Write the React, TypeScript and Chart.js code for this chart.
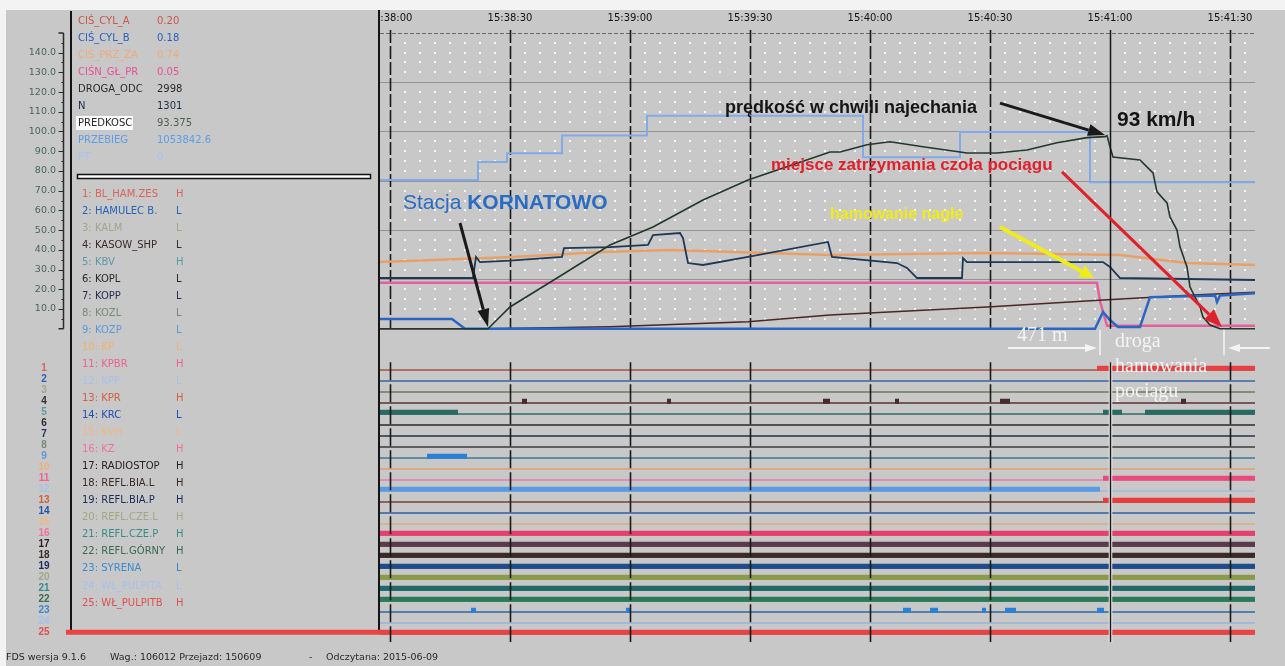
import React, { useEffect, useRef } from "react";
import { Chart, registerables } from "chart.js";

Chart.register(...registerables);

const CANVAS_W = 1285;
const CANVAS_H = 666;
const BG = "#c8c8c8";

// ---------- time axis (seconds after 15:38:00) ----------
const timeTickLabels = ["15:38:00", "15:38:30", "15:39:00", "15:39:30", "15:40:00", "15:40:30", "15:41:00", "15:41:30"];
const TIME_MIN = -2.5;
const TIME_MAX = 216.25;
const TIME_STEP = 30;
const CURSOR_T = 180;

// ---------- analog axis ----------
const analogTickValues = [10, 20, 30, 40, 50, 60, 70, 80, 90, 100, 110, 120, 130, 140];
const ANALOG_TOP = 150;

// ---------- analog series: [seconds, value] ----------
const predkosc: [number, number][] = [
  [-2.5, 0], [24.5, 0], [30, 11], [41.75, 25.7], [55, 42.4], [65.75, 51.6], [78.25, 65.3], [89.5, 75.4],
  [110, 89.6], [112.5, 89.6], [119.25, 93.3], [125, 94.8], [133.25, 92.3], [144.25, 89.1], [151.75, 89.1],
  [159.25, 90.6], [166.75, 94.3], [174.25, 96.9], [178.75, 97.4], [179.25, 97.9], [180, 92.2], [180.75, 87.1],
  [187.5, 85.6], [190.75, 79.0], [191.75, 69.4], [194.25, 63.8], [195, 56.7], [196.75, 50.0], [197.5, 41.5],
  [199.25, 31.3], [200, 21.2], [200.75, 18.1], [202.5, 11.0], [203.25, 5.9], [205, 1.9], [207.5, 0], [216.25, 0],
];
const przebieg: [number, number][] = [
  [-2.5, 75.4], [22, 84.5], [29.25, 89], [43, 98], [64.25, 108], [118.25, 87], [142.5, 99.7], [175, 74.3], [216.25, 74.3],
];
const obroty: [number, number][] = [
  [-2.5, 25.7], [20.75, 25.7], [21.5, 36.4], [22.5, 33.8], [30, 34.5], [43, 36.4], [43.5, 40.9], [55, 41.4],
  [64.5, 42.5], [65.75, 47.5], [72.5, 48.5], [73.25, 46], [74.5, 33.3], [78.25, 32.3], [89.5, 36.4], [109.5, 44],
  [110.5, 36.4], [126.75, 33.3], [129.25, 30.8], [131.75, 25.7], [143, 25.7], [143.25, 35.8], [144.25, 33.8],
  [178.25, 33.8], [180, 31.3], [182.5, 25.7], [216.25, 24.7],
];
const cisPrzZa: [number, number][] = [
  [-2.5, 33.8], [30.75, 36.4], [53.25, 38.9], [70, 39.9], [110, 37.4], [149.25, 38.4], [182.5, 37.4], [199.25, 33.3], [216.25, 32.3],
];
const cisnGlPr: [number, number][] = [
  [-2.5, 23.3], [176.75, 23.3], [177.5, 14], [179.25, 1.5], [216.25, 1.5],
];
const drogaOdc: [number, number][] = [
  [-2.5, 0], [24.5, 0], [55, 1], [89.5, 3.5], [110, 7], [149.25, 11], [178.25, 14.6], [200.75, 17.1], [216.25, 18.5],
];
const cisCylB: [number, number][] = [
  [-2.5, 4.9], [15.5, 4.9], [18.75, 0], [176.25, 0], [178.25, 8.5], [180, 4.4], [182, 0.9], [187.5, 0.9],
  [190, 16], [206.25, 16.8], [206.75, 13.5], [207.5, 16.8], [216.25, 18],
];

// ---------- analog legend ----------
const analogNames = ["CIŚ_CYL_A", "CIŚ_CYL_B", "CIŚ_PRZ_ZA", "CIŚN_GŁ_PR", "DROGA_ODC", "N", "PREDKOSC", "PRZEBIEG", "PT"];
const analogValues = ["0.20", "0.18", "0.74", "0.05", "2998", "1301", "93.375", "1053842.6", "0"];
const analogNameColors = ["#c8584a", "#2a5fc0", "#eeaa7c", "#e8509a", "#2a2a2a", "#1c2c4c", "#2a2a2a", "#5a9ee6", "#a8c2f0"];
const analogValueColors = ["#c8584a", "#2a5fc0", "#eeaa7c", "#e8509a", "#2a2a2a", "#1c2c4c", "#4e5e50", "#5a9ee6", "#a8c2f0"];

// ---------- digital lanes ----------
const laneNames = [
  "BL_HAM.ZES", "HAMULEC B.", "KALM", "KASOW_SHP", "KBV", "KOPL", "KOPP", "KOZL", "KOZP", "KP", "KPBR", "KPP", "KPR",
  "KRC", "KVH", "KZ", "RADIOSTOP", "REFL.BIA.L", "REFL.BIA.P", "REFL.CZE.L", "REFL.CZE.P", "REFL.GÓRNY", "SYRENA",
  "WŁ_PULPITA", "WŁ_PULPITB",
];
const laneActiveLevel = ["H", "L", "L", "L", "H", "L", "L", "L", "L", "L", "H", "L", "H", "L", "L", "H", "H", "H", "H", "H", "H", "H", "L", "L", "H"];
const laneTextColors = [
  "#d8645a", "#2a62b8", "#a4a48c", "#3a2a2a", "#5a9aa8", "#2a2a2a", "#2a3050", "#7a8a7a", "#5a9ad8", "#f0b070",
  "#f06090", "#a8c0e8", "#d06040", "#2050b0", "#f0b880", "#f070a0", "#2a2020", "#3a2a2a", "#1a2a5a", "#a0a880",
  "#3a8a8a", "#3a6a50", "#3a8ad0", "#a6c0ee", "#e05050",
];
const laneLowColors = [
  "#a05545", "#3a64a0", "#6e7a5a", "#5a3434", "#2e6a6a", "#2a2a2a", "#26304a", "#3c3c3c", "#3a7898", "#e0a070",
  "#e080a8", "#a8bad8", "#7a4038", "#3060a0", "#e0aa80", "#e8407a", "#5a3a48", "#3a2a2a", "#1a4a88", "#8a9a48",
  "#1e6a6a", "#2a7a58", "#2a6aa8", "#98b4e0", "#e84444",
];
const laneHighColors = [
  "#e84040", "#3a64a0", "#6e7a5a", "#4a2a2a", "#2a6a62", "#2a2a2a", "#26304a", "#3c3c3c", "#2a80d8", "#e0a070",
  "#ea4a7e", "#5a9ae2", "#ea3c3c", "#3060a0", "#e0aa80", "#e8406e", "#5c3a4a", "#3a2a2a", "#1c4c8c", "#8a9a4a",
  "#1e6a6a", "#2a7a5a", "#2a80d8", "#98b4e0", "#e84444",
];
const laneHigh: [number, number][][] = [
  [[176.75, 216.25]],
  [],
  [],
  [[33, 34.25], [69.25, 70.25], [108.25, 110], [126.25, 127.25], [152.5, 155], [197.75, 199]],
  [[-2.5, 17], [178.25, 183], [188.75, 216.25]],
  [],
  [],
  [],
  [[9.25, 19.25]],
  [],
  [[178.25, 216.25]],
  [[-2.5, 177.5]],
  [[178.25, 216.25]],
  [],
  [],
  [[-2.5, 216.25]],
  [[-2.5, 216.25]],
  [[-2.5, 216.25]],
  [[-2.5, 216.25]],
  [[-2.5, 216.25]],
  [[-2.5, 216.25]],
  [[-2.5, 216.25]],
  [[20.25, 21.5], [59, 60], [128.25, 130.25], [135, 137], [148, 149], [153.75, 156.5], [176.75, 178.5]],
  [],
  [[-2.5, 216.25]],
];
const HIGH_OFFSET = 0.15;

// ---------- annotations (data coordinates: seconds, analog value) ----------
const noteTexts = [
  { text: "prędkość w chwili najechania", t: 83.75, v: 111.9, color: "#151515", font: 'bold 18px "Liberation Sans"', maxW: 283 },
  { text: "93 km/h", t: 181.75, v: 105.8, color: "#151515", font: 'bold 21px "Liberation Sans"', maxW: 82 },
  { text: "miejsce zatrzymania czoła pociągu", t: 95.25, v: 83, color: "#e2202c", font: 'bold 17px "Liberation Sans"', maxW: 290 },
  { text: "hamowanie nagłe", t: 110, v: 57.7, color: "#f0ec1c", font: 'bold 16px "Liberation Sans"', maxW: 145 },
  { text: "471 m", t: 156.75, v: -3.7, color: "#f4f4f4", font: '20px "Liberation Serif"', maxW: 64 },
  { text: "droga", t: 181.25, v: -6.7, color: "#f4f4f4", font: '20px "Liberation Serif"', maxW: 60 },
  { text: "hamowania", t: 181.25, v: -19.4, color: "#f4f4f4", font: '20px "Liberation Serif"', maxW: 95 },
  { text: "pociągu", t: 181.25, v: -31.8, color: "#f4f4f4", font: '20px "Liberation Serif"', maxW: 75 },
];
const stationNote = { prefix: "Stacja ", name: "KORNATOWO", t: 3.25, v: 63.7, color: "#2a6cc4" };
const noteArrows = [
  { from: [152.5, 114.4], to: [178.75, 98.2], color: "#1a1a1a", width: 3, head: 17, half: 6 },
  { from: [17.5, 53.6], to: [24.5, 0.9], color: "#1a1a1a", width: 3, head: 18, half: 6 },
  { from: [168, 79.5], to: [208, 0.9], color: "#e0202a", width: 3, head: 18, half: 7 },
  { from: [152.5, 51.6], to: [176, 25.7], color: "#f0ec1c", width: 4, head: 14, half: 7 },
  { from: [154.5, -9.8], to: [176.75, -9.8], color: "#f4f4f4", width: 2, head: 12, half: 4 },
  { from: [220, -9.8], to: [209.5, -9.8], color: "#f4f4f4", width: 2, head: 12, half: 4 },
];
const noteMarkers = [177.5, 208.5];

// ---------- footer ----------
const footerParts = ["FDS wersja 9.1.6", "Wag.: 106012 Przejazd: 150609", "-", "Odczytana: 2015-06-09"];

// ---------- helpers ----------
function toPts(arr: [number, number][]) {
  return arr.map(([x, y]) => ({ x, y }));
}

function drawArrow(ctx: CanvasRenderingContext2D, x0: number, y0: number, x1: number, y1: number, color: string, width: number, headLen: number, half: number) {
  const ang = Math.atan2(y1 - y0, x1 - x0);
  const bx = x1 - headLen * Math.cos(ang);
  const by = y1 - headLen * Math.sin(ang);
  ctx.strokeStyle = color;
  ctx.lineWidth = width;
  ctx.setLineDash([]);
  ctx.beginPath();
  ctx.moveTo(x0, y0);
  ctx.lineTo(bx, by);
  ctx.stroke();
  ctx.fillStyle = color;
  ctx.beginPath();
  ctx.moveTo(x1, y1);
  ctx.lineTo(bx + half * Math.sin(ang), by - half * Math.cos(ang));
  ctx.lineTo(bx - half * Math.sin(ang), by + half * Math.cos(ang));
  ctx.closePath();
  ctx.fill();
}

const fdsPlugin = {
  id: "fdsDecor",
  beforeDraw(chart: any) {
    const { ctx, chartArea: a } = chart;
    const xs = chart.scales.x;
    const ys = chart.scales.y;
    ctx.save();
    ctx.fillStyle = BG;
    ctx.fillRect(0, 0, CANVAS_W, CANVAS_H);
    ctx.fillStyle = "#f3f3f3";
    ctx.fillRect(0, 0, CANVAS_W, 10);
    ctx.fillRect(0, 0, 6, CANVAS_H);

    const yTop = ys.getPixelForValue(ANALOG_TOP);
    const yBot = ys.getPixelForValue(0);

    // white dot grid
    ctx.fillStyle = "#f7f7f7";
    for (let v = 5; v < ANALOG_TOP; v += 5) {
      if (v % 25 === 0) continue;
      const py = Math.round(ys.getPixelForValue(v)) - 1;
      for (let k = 1; k * 3.75 < TIME_MAX; k++) {
        if (k % 8 === 0) continue;
        const pxx = Math.round(xs.getPixelForValue(k * 3.75)) - 1;
        ctx.fillRect(pxx, py, 2, 2);
      }
    }
    // horizontal grid lines every 25
    for (let v = 25; v <= ANALOG_TOP; v += 25) {
      const py = Math.round(ys.getPixelForValue(v)) + 0.5;
      ctx.strokeStyle = v === ANALOG_TOP ? "#6a6a6a" : "#939393";
      ctx.lineWidth = 1;
      ctx.setLineDash(v === ANALOG_TOP ? [4, 2] : []);
      ctx.beginPath();
      ctx.moveTo(a.left, py);
      ctx.lineTo(a.right, py);
      ctx.stroke();
    }
    // vertical dashed time lines (analog part)
    ctx.strokeStyle = "#1a1a1a";
    ctx.lineWidth = 1.6;
    ctx.setLineDash([13, 3]);
    for (let t = 0; t <= TIME_MAX; t += TIME_STEP) {
      if (t === CURSOR_T) continue;
      const pxx = Math.round(xs.getPixelForValue(t)) + 0.5;
      ctx.beginPath();
      ctx.moveTo(pxx, yTop - 3);
      ctx.lineTo(pxx, yBot);
      ctx.stroke();
    }
    ctx.restore();
  },
  afterDatasetsDraw(chart: any) {
    const { ctx, chartArea: a } = chart;
    const xs = chart.scales.x;
    const ys = chart.scales.y;
    const yd = chart.scales.yd;
    ctx.save();
    const dTop = yd.getPixelForValue(0.3);
    // digital dashed time ticks
    ctx.strokeStyle = "#1a1a1a";
    ctx.lineWidth = 1.6;
    ctx.setLineDash([18, 4]);
    for (let t = 0; t <= TIME_MAX; t += TIME_STEP) {
      if (t === CURSOR_T) continue;
      const pxx = Math.round(xs.getPixelForValue(t)) + 0.5;
      ctx.beginPath();
      ctx.moveTo(pxx, dTop);
      ctx.lineTo(pxx, a.bottom);
      ctx.stroke();
    }
    // cursor line
    const cx = Math.round(xs.getPixelForValue(CURSOR_T)) + 0.5;
    ctx.setLineDash([]);
    ctx.strokeStyle = "#f2f2f2";
    ctx.lineWidth = 3.5;
    ctx.beginPath();
    ctx.moveTo(cx, dTop);
    ctx.lineTo(cx, a.bottom);
    ctx.stroke();
    ctx.strokeStyle = "#151515";
    ctx.lineWidth = 1.5;
    ctx.beginPath();
    ctx.moveTo(cx, ys.getPixelForValue(ANALOG_TOP) - 3);
    ctx.lineTo(cx, ys.getPixelForValue(0));
    ctx.moveTo(cx, dTop);
    ctx.lineTo(cx, a.bottom);
    ctx.stroke();

    // white marker lines
    ctx.strokeStyle = "#f4f4f4";
    ctx.lineWidth = 1.5;
    for (const t of noteMarkers) {
      const pxx = xs.getPixelForValue(t);
      ctx.beginPath();
      ctx.moveTo(pxx, ys.getPixelForValue(0) + 1);
      ctx.lineTo(pxx, ys.getPixelForValue(-13.5));
      ctx.stroke();
    }
    // arrows
    for (const ar of noteArrows) {
      drawArrow(
        ctx,
        xs.getPixelForValue(ar.from[0]), ys.getPixelForValue(ar.from[1]),
        xs.getPixelForValue(ar.to[0]), ys.getPixelForValue(ar.to[1]),
        ar.color, ar.width, ar.head, ar.half,
      );
    }
    // texts
    ctx.textBaseline = "middle";
    ctx.textAlign = "left";
    for (const n of noteTexts) {
      ctx.font = n.font;
      ctx.fillStyle = n.color;
      ctx.fillText(n.text, xs.getPixelForValue(n.t), ys.getPixelForValue(n.v), n.maxW);
    }
    // station label
    const sx = xs.getPixelForValue(stationNote.t);
    const sy = ys.getPixelForValue(stationNote.v);
    ctx.fillStyle = stationNote.color;
    ctx.font = '21px "Liberation Sans"';
    ctx.fillText(stationNote.prefix, sx, sy);
    const w0 = ctx.measureText(stationNote.prefix).width;
    ctx.font = 'bold 21px "Liberation Sans"';
    ctx.fillText(stationNote.name, sx + w0, sy, 150);
    ctx.restore();
  },
  afterDraw(chart: any) {
    const { ctx } = chart;
    const ys = chart.scales.y;
    const yd = chart.scales.yd;
    ctx.save();
    // left panel background
    ctx.fillStyle = BG;
    ctx.fillRect(6, 10, 374, CANVAS_H - 10);
    // panel borders
    ctx.strokeStyle = "#141414";
    ctx.lineWidth = 2;
    ctx.beginPath();
    ctx.moveTo(71, 11);
    ctx.lineTo(71, 632);
    ctx.moveTo(379, 10);
    ctx.lineTo(379, 632);
    ctx.stroke();
    ctx.lineWidth = 1;
    ctx.beginPath();
    ctx.moveTo(71, 630.5);
    ctx.lineTo(379, 630.5);
    ctx.stroke();
    // lane 25 line continues under the panel
    const y25 = yd.getPixelForValue(25 - HIGH_OFFSET);
    ctx.strokeStyle = laneHighColors[24];
    ctx.lineWidth = 5;
    ctx.beginPath();
    ctx.moveTo(66, y25);
    ctx.lineTo(381, y25);
    ctx.stroke();

    // separator
    ctx.fillStyle = "#fafafa";
    ctx.fillRect(77, 174, 293, 5);
    ctx.strokeStyle = "#111";
    ctx.lineWidth = 1.5;
    ctx.strokeRect(77.5, 174.5, 293, 4);

    // analog legend
    ctx.textBaseline = "middle";
    ctx.textAlign = "left";
    ctx.font = '10px "DejaVu Sans"';
    analogNames.forEach((name, i) => {
      const y = 21 + 17 * i;
      if (name === "PREDKOSC") {
        ctx.fillStyle = "#fbfbfb";
        ctx.fillRect(76, y - 7, 57, 14);
      }
      ctx.fillStyle = analogNameColors[i];
      ctx.fillText(name, 78, y);
      ctx.fillStyle = analogValueColors[i];
      ctx.fillText(analogValues[i], 157, y);
    });
    // digital legend
    laneNames.forEach((name, i) => {
      const y = 194 + 17.04 * i;
      ctx.fillStyle = laneTextColors[i];
      ctx.fillText(`${i + 1}: ${name}`, 82, y);
      ctx.fillText(laneActiveLevel[i], 176, y);
    });

    // left analog axis
    const axX = 63.5;
    const aTop = ys.getPixelForValue(ANALOG_TOP);
    const aBot = ys.getPixelForValue(0);
    ctx.strokeStyle = "#2a2a2a";
    ctx.lineWidth = 1.5;
    ctx.beginPath();
    ctx.moveTo(axX, aTop);
    ctx.lineTo(axX, aBot);
    ctx.moveTo(axX - 5, aTop);
    ctx.lineTo(axX, aTop);
    ctx.moveTo(axX - 5, aBot);
    ctx.lineTo(axX, aBot);
    ctx.stroke();
    ctx.lineWidth = 1;
    for (let v = 5; v < ANALOG_TOP; v += 5) {
      const py = Math.round(ys.getPixelForValue(v)) + 0.5;
      ctx.beginPath();
      ctx.moveTo(axX - (v % 10 === 0 ? 5 : 2), py);
      ctx.lineTo(axX, py);
      ctx.stroke();
    }
    ctx.textAlign = "right";
    ctx.font = '9.5px "DejaVu Sans"';
    ctx.fillStyle = "#4a6656";
    for (const v of analogTickValues) {
      ctx.fillText(v.toFixed(1), 56, ys.getPixelForValue(v));
    }
    // lane numbers
    ctx.textAlign = "center";
    ctx.font = 'bold 10px "Liberation Sans"';
    for (let i = 1; i <= 25; i++) {
      ctx.fillStyle = laneTextColors[i - 1];
      ctx.fillText(String(i), 44, yd.getPixelForValue(i) - 2);
    }
    // footer
    ctx.textAlign = "left";
    ctx.font = '9.5px "DejaVu Sans"';
    ctx.fillStyle = "#2a2a2a";
    const fx = [6, 110, 309, 326];
    footerParts.forEach((p, i) => ctx.fillText(p, fx[i], 658));
    ctx.restore();
  },
};

function buildDatasets() {
  const sets: any[] = [];
  // digital lanes: thin baseline for every lane
  laneNames.forEach((_, i) => {
    const lane = i + 1;
    sets.push({
      label: `lane${lane}`,
      yAxisID: "yd",
      data: [{ x: TIME_MIN, y: lane }, { x: TIME_MAX, y: lane }],
      borderColor: laneLowColors[i],
      borderWidth: 1.6,
      pointRadius: 0,
    });
  });
  // digital lanes: thick "active" intervals
  laneHigh.forEach((ivs, i) => {
    if (!ivs.length) return;
    const lane = i + 1;
    const data: any[] = [];
    ivs.forEach(([s, e]) => {
      data.push({ x: s, y: lane - HIGH_OFFSET }, { x: e, y: lane - HIGH_OFFSET }, { x: e, y: null });
    });
    sets.push({
      label: `lane${lane}high`,
      yAxisID: "yd",
      data,
      borderColor: laneHighColors[i],
      borderWidth: 5,
      borderCapStyle: "butt",
      spanGaps: false,
      pointRadius: 0,
    });
  });
  const analogDefs = [
    { label: "PRZEBIEG", data: przebieg, color: "#82aae8", width: 2, stepped: true },
    { label: "CIŚ_PRZ_ZA", data: cisPrzZa, color: "#e8a068", width: 2.5, stepped: false },
    { label: "CIŚN_GŁ_PR", data: cisnGlPr, color: "#e4609c", width: 2.5, stepped: false },
    { label: "DROGA_ODC", data: drogaOdc, color: "#4a2626", width: 1.5, stepped: false },
    { label: "N", data: obroty, color: "#1e3858", width: 1.8, stepped: false },
    { label: "CIŚ_CYL_B", data: cisCylB, color: "#2a66c4", width: 2.5, stepped: false },
    { label: "PREDKOSC", data: predkosc, color: "#22382a", width: 1.6, stepped: false },
  ];
  analogDefs.forEach((d) => {
    sets.push({
      label: d.label,
      yAxisID: "y",
      data: toPts(d.data),
      borderColor: d.color,
      borderWidth: d.width,
      stepped: d.stepped,
      pointRadius: 0,
      tension: 0,
    });
  });
  sets.forEach((s, idx) => {
    s.order = -idx;
    s.fill = false;
  });
  return sets;
}

export default function App() {
  const ref = useRef<HTMLCanvasElement>(null);
  useEffect(() => {
    const canvas = ref.current;
    if (!canvas) return;
    const chart = new Chart(canvas, {
      type: "line",
      data: { datasets: buildDatasets() },
      options: {
        animation: false,
        responsive: false,
        maintainAspectRatio: false,
        events: [],
        layout: { padding: { left: 380, right: CANVAS_W - 1255, top: 0, bottom: CANVAS_H - 642 } },
        plugins: { legend: { display: false }, tooltip: { enabled: false } },
        scales: {
          x: {
            type: "linear",
            position: "top",
            min: TIME_MIN,
            max: TIME_MAX,
            afterFit: (s: any) => {
              s.height = 28;
            },
            grid: { display: false, drawTicks: false },
            border: { display: false },
            ticks: {
              stepSize: TIME_STEP,
              includeBounds: false,
              autoSkip: false,
              maxRotation: 0,
              padding: 4,
              color: "#141414",
              font: { family: "DejaVu Sans", size: 10 },
              callback: (value: any) => {
                const i = Math.round(Number(value) / TIME_STEP);
                return timeTickLabels[i] ?? "";
              },
            },
          },
          y: { type: "linear", display: false, min: -158.87, max: 152.48 },
          yd: { type: "linear", display: false, reverse: true, min: -30.0909, max: 25.7273 },
        },
      } as any,
      plugins: [fdsPlugin as any],
    });
    return () => chart.destroy();
  }, []);
  return (
    <div style={{ position: "absolute", left: 0, top: 0, width: CANVAS_W, height: CANVAS_H, background: BG }}>
      <canvas ref={ref} width={CANVAS_W} height={CANVAS_H} style={{ display: "block", width: CANVAS_W, height: CANVAS_H }} />
    </div>
  );
}
